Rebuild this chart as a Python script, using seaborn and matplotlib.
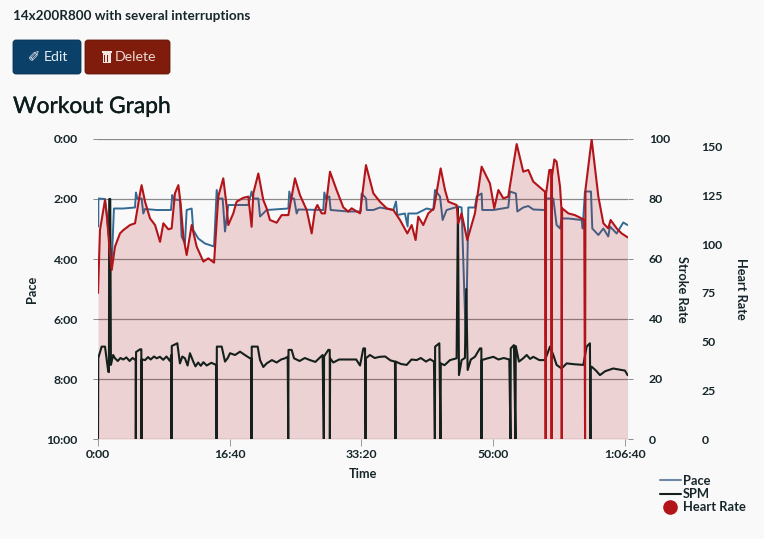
import matplotlib
matplotlib.use("Agg")
import matplotlib.pyplot as plt
import matplotlib.patheffects as pe
import seaborn as sns
from matplotlib.lines import Line2D
from matplotlib.patches import FancyBboxPatch, Rectangle

# values (time in seconds)
hr_time = [0, 15, 53, 66, 86, 104, 129, 167, 192, 243, 281, 319, 331, 357, 395, 433, 471, 496, 534, 559,
           584, 610, 627, 648, 673, 711, 749, 800, 837, 881, 913, 951, 977, 989, 1027, 1052, 1103, 1141, 1166, 1179,
           1217, 1255, 1280, 1305, 1356, 1394, 1445, 1495, 1533, 1584, 1622, 1647, 1665, 1698, 1723, 1761, 1811, 1862, 1900, 1925,
           1989, 2034, 2090, 2140, 2191, 2242, 2292, 2348, 2381, 2411, 2431, 2469, 2507, 2550, 2601, 2634, 2659, 2722, 2735, 2760,
           2803, 2861, 2912, 2975, 3008, 3039, 3077, 3114, 3178, 3228, 3266, 3304, 3393, 3398, 3401, 3426, 3440, 3443, 3446, 3464,
           3481, 3507, 3517, 3520, 3523, 3570, 3620, 3671, 3691, 3697, 3700, 3747, 3798, 3836, 3873, 3891, 3937, 3975, 4020]
hr_values = [75, 107.3, 122.7, 115.9, 98.8, 86.8, 98.8, 105.6, 107.3, 109.9, 110.8, 126.2, 130.4, 121.9, 113.3, 109.9, 101.3, 110.8, 107.7, 108.2,
             126.2, 130.4, 121, 103.9, 94.5, 109.9, 98.8, 91.1, 92.8, 90.6, 124.5, 133.9, 119.3, 109.9, 115.9, 121.9, 123.9, 124.5, 109, 126.2,
             136.4, 122.7, 118.5, 112.5, 111.1, 115, 115, 133.9, 125.3, 117.6, 105.6, 117.6, 120.2, 115.9, 115.9, 137.3, 127.9, 119, 116.8, 118.5,
             115.9, 140.7, 126.2, 121.9, 118.5, 117.6, 112.5, 105.6, 109.9, 102.2, 114.2, 109.9, 115.9, 118.5, 139, 127.9, 121.9, 120.2, 110.8, 115.9,
             102.2, 115.9, 139.9, 131.3, 118.5, 127.9, 123.6, 124.5, 151.5, 137.3, 138.2, 132.2, 127, 0, 126, 138.2, 138.2, 0, 135, 143.6,
             142.4, 129.6, 119, 0, 118.5, 115.9, 115, 113.3, 112.5, 0, 128, 153.9, 124.5, 110.8, 108.2, 112.5, 108.2, 105.6, 103.6]

pace_time = [2, 3, 53, 78, 104, 121, 192, 281, 288, 299, 331, 344, 357, 445, 554, 564, 572, 622, 635, 660,
             673, 711, 723, 761, 812, 881, 901, 913, 946, 964, 989, 1078, 1141, 1166, 1179, 1217, 1230, 1280, 1445, 1452,
             1465, 1488, 1508, 1520, 1710, 1718, 1730, 1756, 1766, 1900, 1994, 2001, 2035, 2040, 2090, 2140, 2242, 2262, 2272, 2330,
             2350, 2355, 2419, 2495, 2545, 2558, 2596, 2616, 2646, 2735, 2760, 2793, 2811, 2861, 2874, 2912, 2917, 3001, 3114, 3127,
             3172, 3183, 3228, 3266, 3304, 3393, 3400, 3456, 3481, 3507, 3519, 3570, 3671, 3679, 3696, 3742, 3752, 3798, 3836, 3873,
             3886, 3937, 3987, 4020]
pace_values = [175, 119, 120, 182, 249, 139, 139, 137, 107, 119, 119, 149, 140, 142, 142, 112, 121, 122, 195, 209,
               142, 139, 182, 199, 209, 215, 102, 119, 119, 185, 132, 132, 132, 105, 119, 119, 155, 142, 139, 105,
               119, 119, 149, 141, 142, 107, 119, 115, 142, 145, 145, 109, 119, 142, 142, 137, 142, 125, 152, 149,
               175, 149, 149, 139, 142, 102, 115, 162, 142, 135, 137, 412, 137, 137, 115, 109, 142, 142, 137, 105,
               109, 145, 137, 134, 141, 142, 119, 119, 172, 179, 159, 159, 162, 179, 105, 105, 179, 192, 179, 195,
               175, 189, 167, 172]

spm_time = [0, 2, 28, 53, 78, 83, 85, 93, 98, 115,
            129, 150, 170, 192, 215, 240, 262, 281, 286, 287,
            289, 319, 329, 330, 332, 357, 380, 400, 425, 445,
            470, 495, 520, 546, 557, 558, 560, 602, 622, 640,
            660, 680, 698, 723, 740, 760, 780, 800, 825, 860,
            896, 900, 902, 939, 964, 985, 1002, 1040, 1078, 1115,
            1154, 1164, 1165, 1167, 1212, 1230, 1255, 1280, 1320, 1356,
            1390, 1419, 1440, 1444, 1446, 1470, 1488, 1530, 1570, 1609,
            1650, 1705, 1714, 1716, 1748, 1759, 1760, 1762, 1786, 1830,
            1900, 1960, 1989, 2014, 2027, 2031, 2033, 2064, 2100, 2140,
            2180, 2220, 2254, 2258, 2260, 2300, 2343, 2380, 2419, 2450,
            2490, 2520, 2550, 2557, 2559, 2591, 2600, 2602, 2630, 2672,
            2722, 2732, 2740, 2760, 2785, 2795, 2806, 2830, 2861, 2899,
            2910, 2911, 2913, 2950, 3001, 3040, 3080, 3122, 3131, 3133,
            3157, 3169, 3171, 3195, 3225, 3254, 3280, 3304, 3350, 3393,
            3431, 3456, 3481, 3519, 3557, 3620, 3684, 3709, 3734, 3738,
            3740, 3747, 3780, 3810, 3850, 3911, 3975, 4000, 4020]
spm_values = [0, 27, 30.8, 30.8, 22.4, 22.3, 80, 80, 24.7, 28,
              26.9, 26, 27, 26.5, 27.2, 26, 27, 26.5, 26.5, 0,
              29, 29.9, 29.9, 0, 26.5, 26.3, 27.3, 26.5, 27.5, 26.9,
              27.4, 26.4, 27.5, 26, 28, 0, 31, 31.9, 25.2, 27.5,
              26.9, 24.5, 28.6, 25.8, 24.2, 25.5, 24.4, 25.6, 24.5, 25.4,
              24.7, 0, 30.8, 30.8, 25.8, 27, 28.6, 28, 29.1, 28,
              26.9, 26.9, 0, 30.8, 30.8, 26.3, 24, 25.2, 26.3, 25.5,
              26.5, 26.9, 27.4, 0, 29.7, 29.7, 26.9, 26, 27, 26.3,
              25.7, 28, 0, 27.5, 29.7, 29.7, 0, 26.9, 25.5, 26.5,
              26.5, 26.5, 24.5, 30.2, 30.2, 0, 26.9, 28, 27, 27.4,
              27.5, 26.2, 25.8, 0, 25.8, 25, 24.7, 26.5, 26.3, 27,
              25.8, 26.6, 25.8, 0, 30.8, 31.9, 0, 25.2, 24.6, 26.3,
              26.9, 77, 21.3, 26.3, 27, 50, 23, 26.5, 27.4, 30.2,
              30.2, 0, 26.3, 26.8, 27.4, 26.5, 27, 26.5, 0, 30.2,
              31.3, 0, 31, 25.8, 26.8, 28, 26.7, 27.4, 26.3, 26.3,
              30.8, 28, 24.7, 23.5, 25.2, 24.9, 24.7, 30.8, 31.9, 0,
              24, 24.1, 22.8, 21.3, 22.6, 23.5, 23, 22.8, 21.3]

pace_ticks = [0, 120, 240, 360, 480, 600]
pace_labels = ["0:00", "2:00", "4:00", "6:00", "8:00", "10:00"]
time_ticks = [0, 1000, 2000, 3000, 4000]
time_labels = ["0:00", "16:40", "33:20", "50:00", "1:06:40"]
spm_ticks = [0, 20, 40, 60, 80, 100]
hr_ticks = [0, 25, 50, 75, 100, 125, 150]

BG = "#f9f9f9"
TEXT = "#16262a"
PACE = "#336b94"
SPM = "#14201c"
HR = "#b3141a"
W, H = 764, 539

sns.set_theme(style="white")
plt.rcParams["font.family"] = ["Lato", "DejaVu Sans"]
plt.rcParams["font.weight"] = "bold"
plt.rcParams["axes.labelweight"] = "bold"
plt.rcParams["text.color"] = TEXT
plt.rcParams["axes.labelcolor"] = TEXT
plt.rcParams["xtick.color"] = TEXT
plt.rcParams["ytick.color"] = TEXT

fig = plt.figure(figsize=(W / 100, H / 100), dpi=100, facecolor=BG)
ax = fig.add_axes([98 / W, 1 - 439 / H, 530 / W, 300 / H], facecolor=BG)
ax_fill = ax.twinx()
ax_spm = ax.twinx()
ax_hr = ax.twinx()

XMAX = 4023
HR_TOP = 154.1

# pace axis, the only one that has gridlines
sns.lineplot(x=pace_time, y=pace_values, ax=ax, color=PACE, linewidth=1.4, sort=False, estimator=None)
ax.set_xlim(0, XMAX)
ax.set_ylim(600, 0)
ax.set_yticks(pace_ticks, pace_labels, fontsize=8.8)
ax.set_xticks(time_ticks, time_labels, fontsize=8.8)
ax.set_xlabel("Time", fontsize=9.2, labelpad=6)
ax.set_ylabel("Pace", fontsize=9.2)
ax.yaxis.set_label_coords((38 - 98) / 530, 0.5)
ax.grid(axis="y", color="#8a8a8a", linewidth=0.9)
ax.set_axisbelow(True)
ax.tick_params(axis="y", left=True, right=True, length=3.6, width=0.7, color="#8a8a8a", pad=11)
ax.tick_params(axis="x", bottom=True, length=5, width=0.7, color="#999999", pad=2)
sns.despine(ax=ax, left=True, right=True, top=True, bottom=True)

# heart rate area stays underneath all the lines
ax_fill.fill_between(hr_time, hr_values, 0, color=HR, alpha=0.17, linewidth=0)
ax_fill.set_ylim(0, HR_TOP)
ax_fill.axis("off")

sns.lineplot(x=spm_time, y=spm_values, ax=ax_spm, color=SPM, linewidth=1.5, sort=False, estimator=None)
ax_spm.set_xlim(0, XMAX)
ax_spm.set_ylim(0, 100)
ax_spm.set_yticks(spm_ticks)
ax_spm.tick_params(axis="y", length=0, labelsize=8.8, pad=15)
ax_spm.set_ylabel("Stroke Rate", fontsize=9.2, rotation=270, labelpad=0)
ax_spm.yaxis.set_label_coords((688 - 98) / 530, 0.5)

sns.lineplot(x=hr_time, y=hr_values, ax=ax_hr, color=HR, linewidth=1.5, sort=False, estimator=None)
ax_hr.set_xlim(0, XMAX)
ax_hr.set_ylim(0, HR_TOP)
ax_hr.set_yticks(hr_ticks)
ax_hr.tick_params(axis="y", length=0, labelsize=8.8, pad=53)
ax_hr.set_ylabel("Heart Rate", fontsize=9.2, rotation=270, labelpad=0)
ax_hr.yaxis.set_label_coords((747 - 98) / 530, 0.5)

for a in [ax_spm, ax_hr]:
    for s in a.spines.values():
        s.set_visible(False)
    a.grid(False)

# page header and buttons, in pixel coordinates
page = fig.add_axes([0, 0, 1, 1], facecolor="none")
page.set_xlim(0, W)
page.set_ylim(H, 0)
page.axis("off")
page.text(13, 16.5, "14x200R800 with several interruptions", fontsize=9.7, va="center", fontweight="bold")
page.add_patch(FancyBboxPatch((15, 42), 64, 30, boxstyle="round,pad=2,rounding_size=3",
                              fc="#0b4168", ec="#08304e", lw=0.6))
page.add_patch(FancyBboxPatch((87, 42), 81, 30, boxstyle="round,pad=2,rounding_size=3",
                              fc="#7f1c0c", ec="#5f150a", lw=0.6))
page.text(28, 56.5, "\u2710", fontsize=10.5, color="#f4f4f4", ha="left", va="center", family="DejaVu Sans")
page.text(44, 57, "Edit", fontsize=10.2, color="#e8eef2", va="center", fontweight="normal")
page.add_patch(Rectangle((102.5, 53), 8, 10, fc="#f2e6e2", ec="none"))
page.add_patch(Rectangle((101.5, 51), 10, 1.5, fc="#f2e6e2", ec="none"))
page.add_patch(Rectangle((104.4, 54.5), 1, 7, fc="#7f1c0c", ec="none"))
page.add_patch(Rectangle((107.2, 54.5), 1, 7, fc="#7f1c0c", ec="none"))
page.text(115, 57, "Delete", fontsize=10.2, color="#ecd8d2", va="center", fontweight="normal")
title = page.text(13, 106.5, "Workout Graph", fontsize=16.4, va="center", fontweight="normal", color="#0c1c1c")
title.set_path_effects([pe.withStroke(linewidth=0.25, foreground="#0c1c1c")])

handles = [Line2D([], [], color="#6f88a4", linewidth=1.5),
           Line2D([], [], color=SPM, linewidth=1.5),
           Line2D([], [], color=HR, linestyle="none", marker="o", markersize=9.5)]
fig.legend(handles, ["Pace", "SPM", "Heart Rate"], loc="upper left", bbox_to_anchor=(656 / W, 1 - 471 / H),
           frameon=False, fontsize=9.3, handlelength=1.6, handletextpad=0.2, labelspacing=0.1,
           borderpad=0.3, borderaxespad=0)

fig.savefig("out.png", dpi=100, facecolor=BG)
